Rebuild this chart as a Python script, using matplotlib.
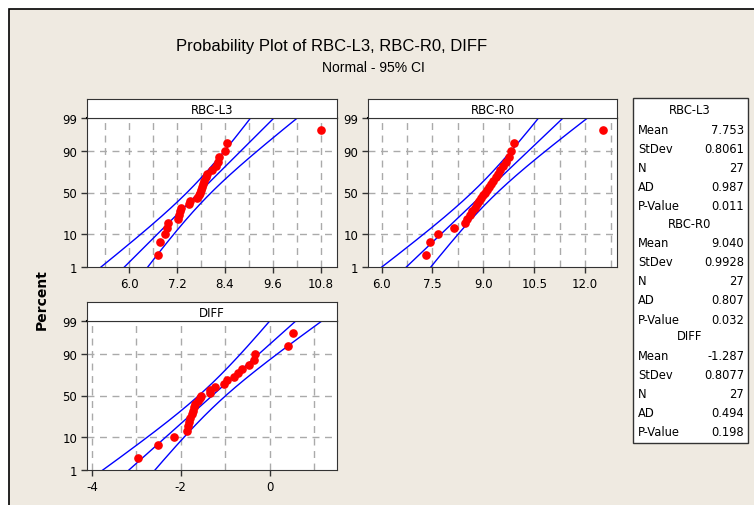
import numpy as np
import matplotlib.pyplot as plt
from matplotlib.patches import Rectangle
from statistics import NormalDist

# datos (27 observaciones por serie)
names = ['RBC-L3', 'RBC-R0', 'DIFF']
rbc_l3 = [6.73, 6.77, 6.90, 6.95, 6.97, 7.22, 7.25, 7.28, 7.30, 7.49, 7.53, 7.71, 7.74,
          7.77, 7.79, 7.82, 7.85, 7.87, 7.92, 7.96, 8.08, 8.18, 8.23, 8.24, 8.39, 8.46, 10.82]
rbc_r0 = [7.30, 7.42, 7.67, 8.14, 8.45, 8.53, 8.61, 8.68, 8.74, 8.81, 8.87, 8.93, 8.99,
          9.05, 9.11, 9.17, 9.23, 9.29, 9.36, 9.43, 9.50, 9.57, 9.66, 9.76, 9.82, 9.90, 12.54]
diff = [-2.97, -2.52, -2.16, -1.85, -1.84, -1.82, -1.78, -1.75, -1.72, -1.69, -1.67, -1.61, -1.57,
        -1.55, -1.35, -1.34, -1.23, -1.02, -0.95, -0.80, -0.71, -0.61, -0.46, -0.35, -0.32, 0.42, 0.54]
means = [7.753, 9.040, -1.287]
stdevs = [0.8061, 0.9928, 0.8077]
n_obs = [27, 27, 27]
ad_vals = [0.987, 0.807, 0.494]
p_vals = [0.011, 0.032, 0.198]

pct_ticks = [1, 10, 50, 90, 99]
x_major = [[6.0, 7.2, 8.4, 9.6, 10.8], [6.0, 7.5, 9.0, 10.5, 12.0], [-4, -2, 0]]
x_grid = [[5.4, 6.6, 7.8, 9.0, 10.2], [6.75, 8.25, 9.75, 11.25, 12.75], [-3, -1, 1]]
x_lims = [(4.94, 11.21), (5.6, 12.94), (-4.11, 1.52)]
x_fmt = ['{:.1f}', '{:.1f}', '{:g}']

W, H = 754, 506
nd = NormalDist()
BEIGE = '#efeae1'


def fbox(l, t, r, b):
    return [l / W, 1 - b / H, (r - l) / W, (b - t) / H]


fig = plt.figure(figsize=(W / 100, H / 100), dpi=100, facecolor='white')
fig.patches.append(Rectangle((9 / W, -0.1), 1.2, 1.1 - 10 / H, transform=fig.transFigure,
                             facecolor=BEIGE, edgecolor='black', lw=1.2, zorder=-10))

fig.text(332 / W, 1 - 46 / H, 'Probability Plot of RBC-L3, RBC-R0, DIFF', ha='center', va='center',
         fontsize=12, family=['Liberation Sans', 'DejaVu Sans'])
fig.text(373 / W, 1 - 68 / H, 'Normal - 95% CI', ha='center', va='center', fontsize=10,
         family=['Liberation Sans', 'DejaVu Sans'])
fig.text(42 / W, 1 - 300 / H, 'Percent', rotation=90, ha='center', va='center',
         fontsize=10, fontweight='bold')

boxes = [(87, 119, 337, 268), (368, 119, 617, 268), (87, 322, 337, 471)]
series = [rbc_l3, rbc_r0, diff]
zlo, zhi = nd.inv_cdf(0.01), nd.inv_cdf(0.99)

for k in range(3):
    l, t, r, b = boxes[k]
    ax = fig.add_axes(fbox(l, t, r, b))
    ax.set_facecolor('white')
    vals = np.sort(np.array(series[k]))
    n = len(vals)
    # posiciones de rango mediano (Benard)
    zpos = np.array([nd.inv_cdf((i - 0.3) / (n + 0.4)) for i in range(1, n + 1)])

    zz = np.linspace(-2.6, 2.6, 200)
    mu, sd = means[k], stdevs[k]
    half = 1.96 * sd * np.sqrt((1 + zz ** 2 / 2) / n_obs[k])
    for xs in (mu + sd * zz, mu + sd * zz - half, mu + sd * zz + half):
        ax.plot(xs, zz, color='#0000ff', lw=1.0, zorder=3)
    ax.plot(vals, zpos, 'o', color='#ff0000', ms=5.2, mec='#ff0000', zorder=4)

    ax.set_xlim(*x_lims[k])
    ax.set_ylim(zlo, zhi)
    for gx in x_major[k] + x_grid[k]:
        ax.axvline(gx, color='#aaaaaa', lw=1, ls=(0, (5, 4)), zorder=1)
    for p in pct_ticks[1:-1]:
        ax.axhline(nd.inv_cdf(p / 100), color='#aaaaaa', lw=1, ls=(0, (5, 4)), zorder=1)
    ax.set_xticks(x_major[k])
    ax.set_xticklabels([x_fmt[k].format(v) for v in x_major[k]])
    ax.set_yticks([nd.inv_cdf(p / 100) for p in pct_ticks])
    ax.set_yticklabels([str(p) for p in pct_ticks])
    ax.tick_params(labelsize=8.5, length=4, width=1, color='#333333', pad=3)
    for s in ('left', 'right', 'bottom'):
        ax.spines[s].set_color('#333333')
    ax.spines['top'].set_color('black')
    ax.spines['top'].set_linewidth(1.5)

    hax = fig.add_axes(fbox(l, t - 19, r, t))
    hax.set_xticks([])
    hax.set_yticks([])
    hax.set_facecolor('white')
    for s in hax.spines.values():
        s.set_color('#333333')
    hax.text(0.5, 0.45, names[k], ha='center', va='center', fontsize=8.5, transform=hax.transAxes)

# cuadro de estadisticos
fig.patches.append(Rectangle((633 / W, 1 - 444 / H), 115 / W, 345 / H, transform=fig.transFigure,
                             facecolor='white', edgecolor='#333333', lw=1))
for k in range(3):
    y0 = 111 + 113 * k
    fig.text(690 / W, 1 - y0 / H, names[k], ha='center', va='center', fontsize=8.3)
    rows = [('Mean', f'{means[k]:.3f}'), ('StDev', f'{stdevs[k]:.4f}'), ('N', f'{n_obs[k]}'),
            ('AD', f'{ad_vals[k]:.3f}'), ('P-Value', f'{p_vals[k]:.3f}')]
    for j, (lab, val) in enumerate(rows):
        yy = y0 + 19.2 * (j + 1)
        fig.text(638 / W, 1 - yy / H, lab, ha='left', va='center', fontsize=8.3)
        fig.text(744 / W, 1 - yy / H, val, ha='right', va='center', fontsize=8.3)

plt.savefig('out.png', dpi=100, facecolor='white')
